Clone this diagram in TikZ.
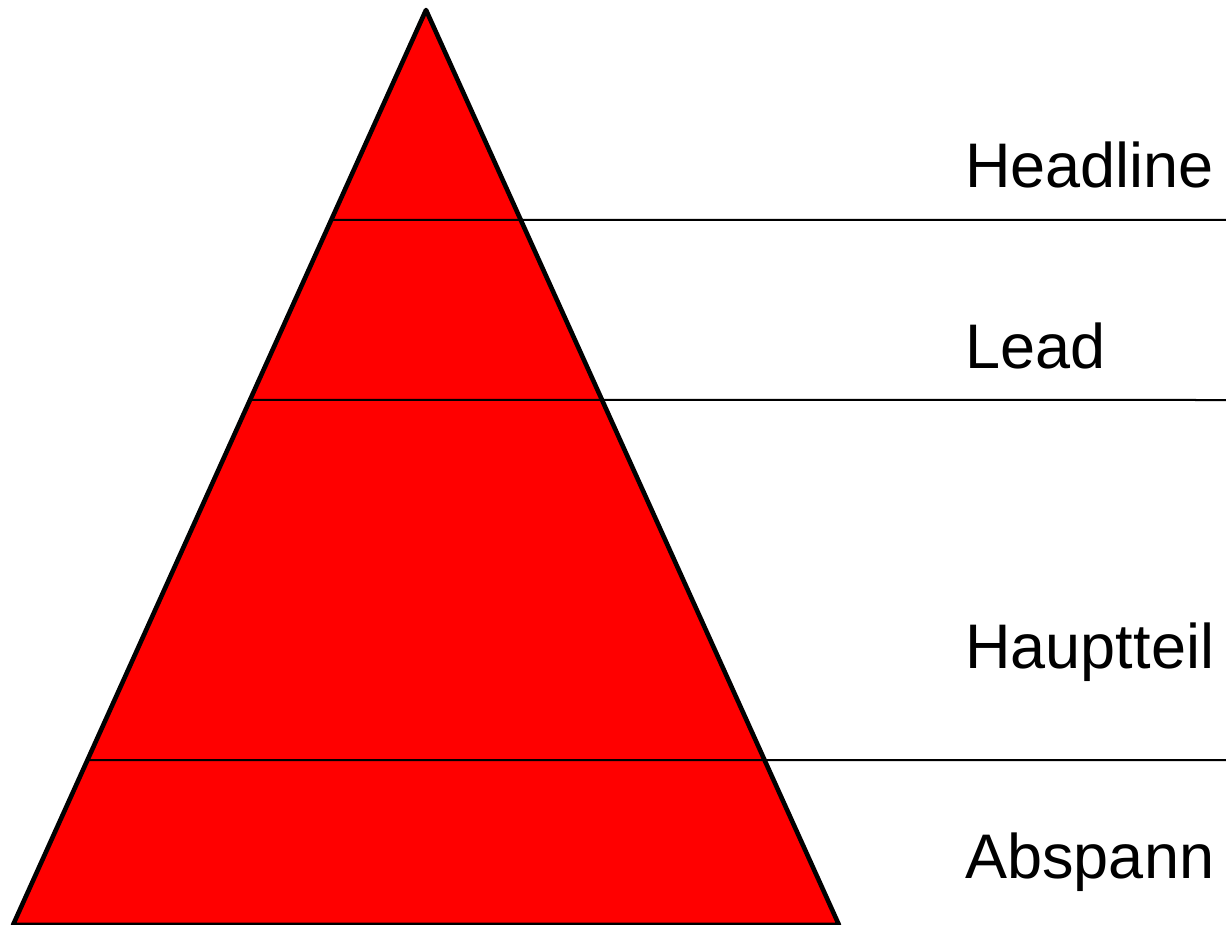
\documentclass[tikz,border=0pt]{standalone}
\usepackage{fontspec}
\setmainfont{Liberation Sans}
\usetikzlibrary{positioning, calc}

\tikzset{
  layerline/.style={black, line width=1pt},
  layerlabel/.style={anchor=base west, inner sep=0pt, font=\fontsize{31.5}{38}\selectfont}
}

\begin{document}
\begin{tikzpicture}[x=0.5pt, y=-0.5pt]
  \useasboundingbox (0,0) rectangle (1226,925);
  % pyramid
  \coordinate (apex) at (426,10);
  \coordinate (bl) at (13,925);
  \coordinate (br) at (839,925);
  \draw[fill=red, line width=2.3pt, line join=round] (apex) -- (bl) -- (br) -- cycle;

  % layer borders
  \coordinate (l1) at ($(apex)!0.2295!(bl)$);
  \coordinate (l2) at ($(apex)!0.4262!(bl)$);
  \coordinate (l3) at ($(apex)!0.8197!(bl)$);
  \coordinate (r1) at (1226,220);
  \coordinate (r2) at (1226,400);
  \coordinate (r3) at (1226,760);
  \draw[layerline] (l1) -- (r1);
  \draw[layerline] (l2) -- (r2);
  \draw[layerline] (l3) -- (r3);

  % labels
  \node[layerlabel] (headline) at (965,188) {Headline};
  \node[layerlabel] (lead) at (965,368) {Lead};
  \node[layerlabel] (hauptteil) at (965,668) {Hauptteil};
  \node[layerlabel] (abspann) at (965,878) {Abspann};
\end{tikzpicture}
\end{document}
